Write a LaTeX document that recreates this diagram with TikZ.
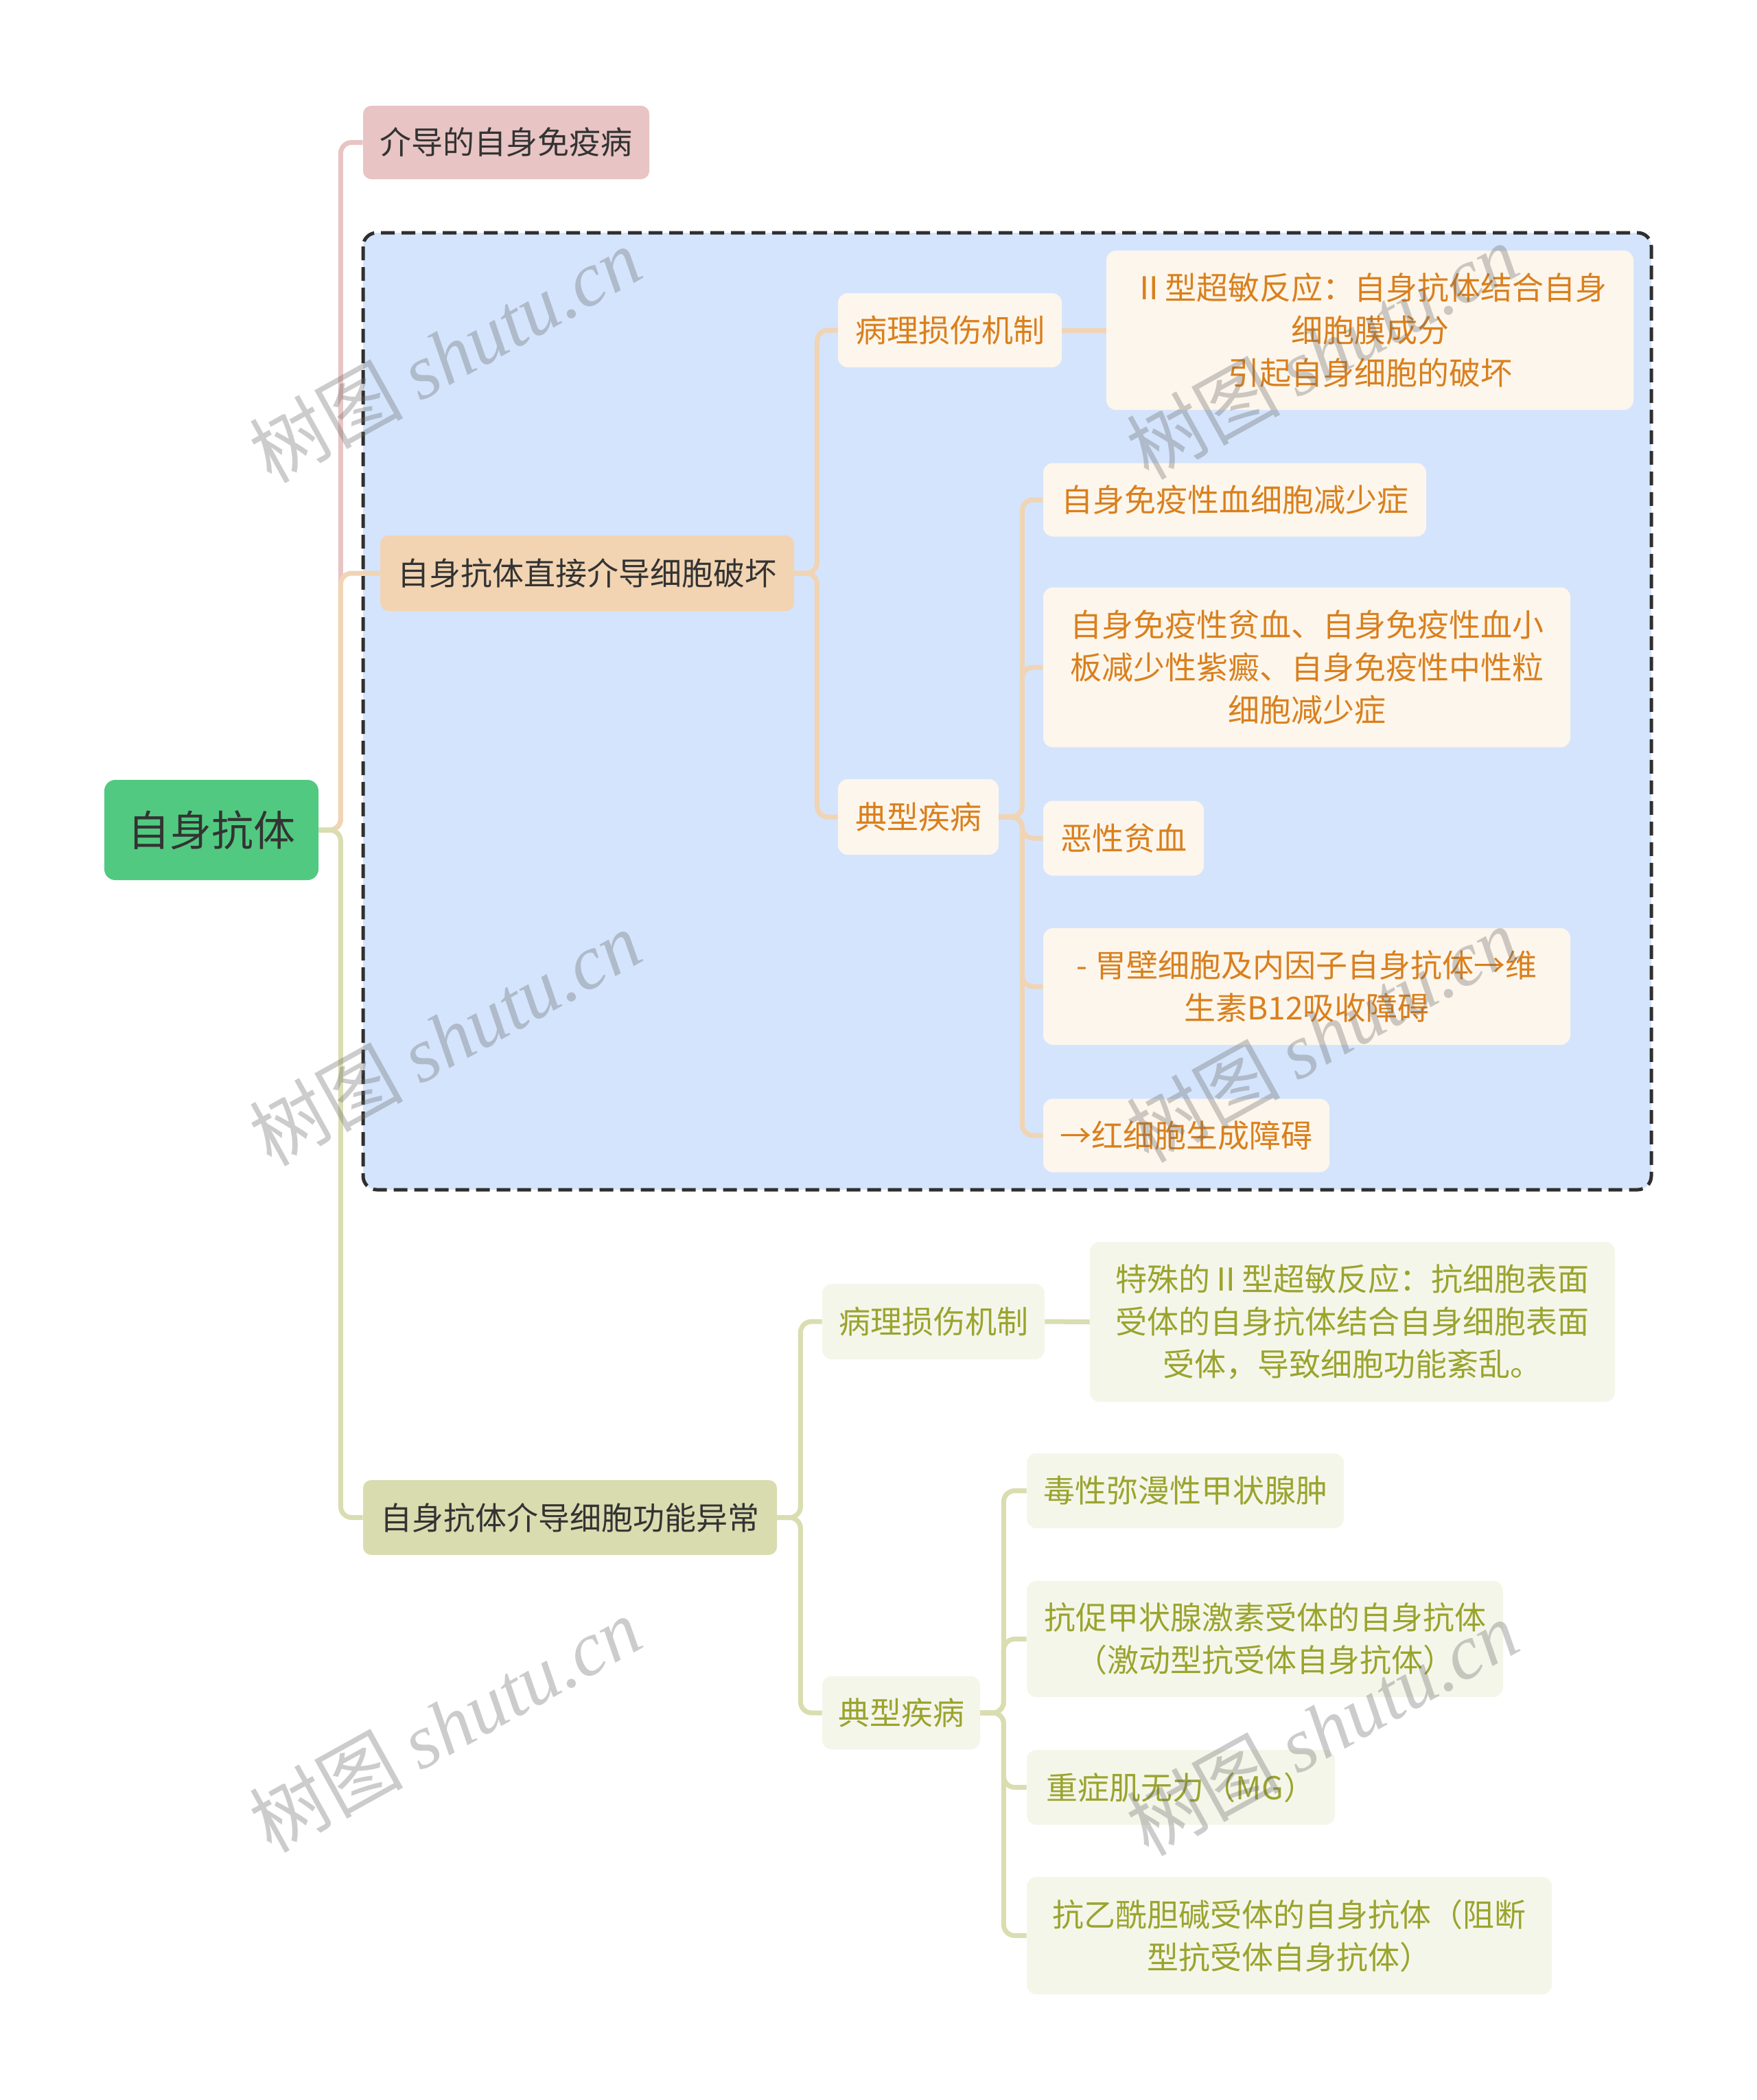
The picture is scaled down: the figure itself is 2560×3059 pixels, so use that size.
\documentclass[tikz,border=0pt]{standalone}
\usepackage{fontspec}
\setmainfont{Noto Sans CJK SC}
\newfontfamily\wmserif{Liberation Serif}
\definecolor{rootG}{HTML}{52C980}
\definecolor{pinkF}{HTML}{E8C4C4}
\definecolor{peachF}{HTML}{F2D4B2}
\definecolor{olvF}{HTML}{D9DCAF}
\definecolor{lineO}{HTML}{F0D4B4}
\definecolor{lineP}{HTML}{E8C4C4}
\definecolor{lineG}{HTML}{D9DDB0}
\definecolor{blueF}{HTML}{D4E4FC}
\definecolor{leafOF}{HTML}{FDF6EC}
\definecolor{leafOT}{HTML}{D9801E}
\definecolor{leafGF}{HTML}{F5F6EA}
\definecolor{leafGT}{HTML}{9AA42E}
\definecolor{darkT}{HTML}{333333}
\definecolor{dashC}{HTML}{2F2F2F}
\tikzset{
  base/.style={inner sep=0pt, align=center, font=\fontsize{23pt}{31pt}\selectfont},
  rootbox/.style={base, fill=rootG, text=darkT, rounded corners=8pt, font=\fontsize{30.5pt}{36pt}\selectfont},
  lvone/.style={base, text=darkT, rounded corners=6pt},
  leafO/.style={base, fill=leafOF, text=leafOT, rounded corners=7pt},
  leafG/.style={base, fill=leafGF, text=leafGT, rounded corners=7pt},
  conn/.style={line width=3.5pt, rounded corners=8pt},
  wm/.style={rotate=29, text=black!60, opacity=0.33, font=\fontsize{56pt}{60pt}\selectfont}
}
\begin{document}
\begin{tikzpicture}[x=0.5pt, y=-0.5pt]
\useasboundingbox[fill=white] (0,0) rectangle (2560,3059);
% dashed group
\draw[fill=blueF, draw=dashC, line width=2.5pt, dash pattern=on 10pt off 5pt, rounded corners=10pt] (529,339) rectangle (2406,1733);

% nodes
\node[rootbox, minimum width=156pt, minimum height=73pt] (root) at (308,1209) {自身抗体};
\node[lvone, fill=pinkF, minimum width=208.5pt, minimum height=53.5pt] (b1) at (737.5,207.5) {介导的自身免疫病};
\node[lvone, fill=peachF, minimum width=301.5pt, minimum height=55pt] (b2) at (855.5,835) {自身抗体直接介导细胞破坏};
\node[lvone, fill=olvF, minimum width=301.5pt, minimum height=54.5pt] (b3) at (830.5,2210.5) {自身抗体介导细胞功能异常};

% branch 2 children
\node[leafO, minimum width=163pt, minimum height=54pt] (om) at (1384,481) {病理损伤机制};
\node[leafO, minimum width=384pt, minimum height=116pt] (omx) at (1996,481) {Ⅱ型超敏反应：自身抗体结合自身\\细胞膜成分\\引起自身细胞的破坏};
\node[leafO, minimum width=117pt, minimum height=55pt] (od) at (1338,1190) {典型疾病};
\node[leafO, minimum width=279pt, minimum height=53.5pt] (o1) at (1799,728) {自身免疫性血细胞减少症};
\node[leafO, minimum width=384pt, minimum height=116.5pt] (o2) at (1904,972) {自身免疫性贫血、自身免疫性血小\\板减少性紫癜、自身免疫性中性粒\\细胞减少症};
\node[leafO, minimum width=117pt, minimum height=54.5pt] (o3) at (1637,1221) {恶性贫血};
\node[leafO, minimum width=384pt, minimum height=85pt] (o4) at (1904,1437) {- 胃壁细胞及内因子自身抗体→维\\生素B12吸收障碍};
\node[leafO, minimum width=208.5pt, minimum height=53.5pt] (o5) at (1728.5,1654) {→红细胞生成障碍};

% branch 3 children
\node[leafG, minimum width=162pt, minimum height=55pt] (gm) at (1360,1925) {病理损伤机制};
\node[leafG, minimum width=382.5pt, minimum height=116.5pt] (gmx) at (1970.5,1925.5) {特殊的Ⅱ型超敏反应：抗细胞表面\\受体的自身抗体结合自身细胞表面\\受体，导致细胞功能紊乱。};
\node[leafG, minimum width=115pt, minimum height=53.5pt] (gd) at (1313,2495) {典型疾病};
\node[leafG, minimum width=231pt, minimum height=54.5pt] (g1) at (1727,2171.5) {毒性弥漫性甲状腺肿};
\node[leafG, minimum width=347pt, minimum height=84.5pt] (g2) at (1843,2387.5) {抗促甲状腺激素受体的自身抗体\\（激动型抗受体自身抗体）};
\node[leafG, minimum width=224.5pt, minimum height=54.5pt] (g3) at (1720.5,2603.5) {重症肌无力（MG）};
\node[leafG, minimum width=382.5pt, minimum height=85.5pt] (g4) at (1878.5,2819.5) {抗乙酰胆碱受体的自身抗体（阻断\\型抗受体自身抗体）};

% connectors from root
\draw[conn, lineP] (root.east) -- ++(32,0) |- (b1.west);
\draw[conn, lineO] (root.east) -- ++(32,0) |- (b2.west);
\draw[conn, lineG] (root.east) -- ++(32,0) |- (b3.west);

% branch 2 connectors
\draw[conn, lineO] (b2.east) -- ++(33,0) |- (om.west);
\draw[conn, lineO] (b2.east) -- ++(33,0) |- (od.west);
\draw[conn, lineO] (om.east) -- (omx.west);
\foreach \n in {o1,o2,o3,o4,o5} {
  \draw[conn, lineO] (od.east) -- ++(34,0) |- (\n.west);
}

% branch 3 connectors
\draw[conn, lineG] (b3.east) -- ++(34,0) |- (gm.west);
\draw[conn, lineG] (b3.east) -- ++(34,0) |- (gd.west);
\draw[conn, lineG] (gm.east) -- (gmx.west);
\foreach \n in {g1,g2,g3,g4} {
  \draw[conn, lineG] (gd.east) -- ++(34,0) |- (\n.west);
}

% watermarks
\node[wm] (wm1) at (648,517) {树图 {\wmserif\itshape shutu.cn}};
\node[wm] (wm2) at (648,1512) {树图 {\wmserif\itshape shutu.cn}};
\node[wm] (wm3) at (648,2512) {树图 {\wmserif\itshape shutu.cn}};
\node[wm] (wm4) at (1926,512) {树图 {\wmserif\itshape shutu.cn}};
\node[wm] (wm5) at (1926,1507) {树图 {\wmserif\itshape shutu.cn}};
\node[wm] (wm6) at (1926,2517) {树图 {\wmserif\itshape shutu.cn}};
\end{tikzpicture}
\end{document}
